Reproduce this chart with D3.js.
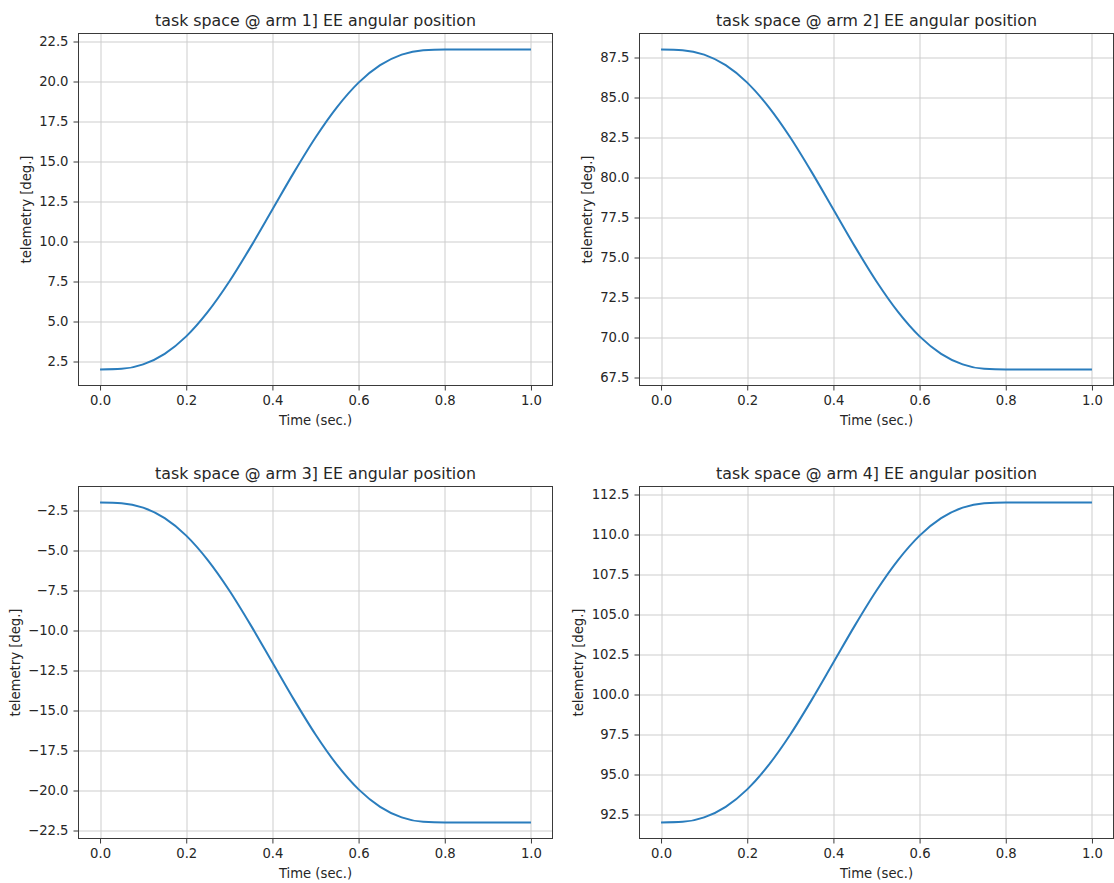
<!DOCTYPE html>
<html>
<head>
<meta charset="utf-8">
<script src="https://cdn.jsdelivr.net/npm/d3@7"></script>
<style>
  body { margin: 0; background: #fff; }
  svg { display: block; }
  text { font-family: "DejaVu Sans", sans-serif; fill: #262626; }
</style>
</head>
<body>
<svg id="chart" width="1114" height="883"></svg>
<script>
// Sample times (seconds)
const time = [0.00, 0.05, 0.10, 0.15, 0.20, 0.25, 0.30, 0.35, 0.40, 0.45, 0.50,
              0.55, 0.60, 0.65, 0.70, 0.75, 0.80, 0.85, 0.90, 0.95, 1.00];

// End-effector angular position per arm (degrees)
const arm1 = [2.00, 2.04, 2.32, 2.98, 4.07, 5.60, 7.50, 9.68, 12.00, 14.32, 16.50,
              18.40, 19.93, 21.02, 21.68, 21.96, 22.00, 22.00, 22.00, 22.00, 22.00];
const arm2 = [88.00, 87.96, 87.68, 87.02, 85.93, 84.40, 82.50, 80.32, 78.00, 75.68, 73.50,
              71.60, 70.07, 68.98, 68.32, 68.04, 68.00, 68.00, 68.00, 68.00, 68.00];
const arm3 = [-2.00, -2.04, -2.32, -2.98, -4.07, -5.60, -7.50, -9.68, -12.00, -14.32, -16.50,
              -18.40, -19.93, -21.02, -21.68, -21.96, -22.00, -22.00, -22.00, -22.00, -22.00];
const arm4 = [92.00, 92.04, 92.32, 92.98, 94.07, 95.60, 97.50, 99.68, 102.00, 104.32, 106.50,
              108.40, 109.93, 111.02, 111.68, 111.96, 112.00, 112.00, 112.00, 112.00, 112.00];

// Axis ticks
const xTicks = [0.0, 0.2, 0.4, 0.6, 0.8, 1.0];
const yTicks1 = [2.5, 5.0, 7.5, 10.0, 12.5, 15.0, 17.5, 20.0, 22.5];
const yTicks2 = [67.5, 70.0, 72.5, 75.0, 77.5, 80.0, 82.5, 85.0, 87.5];
const yTicks3 = [-22.5, -20.0, -17.5, -15.0, -12.5, -10.0, -7.5, -5.0, -2.5];
const yTicks4 = [92.5, 95.0, 97.5, 100.0, 102.5, 105.0, 107.5, 110.0, 112.5];

// Text
const titles = [
  "task space @ arm 1] EE angular position",
  "task space @ arm 2] EE angular position",
  "task space @ arm 3] EE angular position",
  "task space @ arm 4] EE angular position"
];
const xLabel = "Time (sec.)";
const yLabel = "telemetry [deg.]";

// Layout
const W = 474, H = 352;
const cols = [78.5, 639.5];
const rows = [33.5, 486.5];
const tickFont = 13.2, titleFont = 15.8;
const lineColor = "#2a7dbd";
const gridColor = "#cdcdcd";
const spineColor = "#3a3a3a";

const panels = [
  { values: arm1, ticks: yTicks1, title: titles[0], left: cols[0], top: rows[0] },
  { values: arm2, ticks: yTicks2, title: titles[1], left: cols[1], top: rows[0] },
  { values: arm3, ticks: yTicks3, title: titles[2], left: cols[0], top: rows[1] },
  { values: arm4, ticks: yTicks4, title: titles[3], left: cols[1], top: rows[1] }
];

const svg = d3.select("#chart");
const fmt = d3.format(".1f");

panels.forEach(p => {
  const g = svg.append("g").attr("transform", `translate(${p.left},${p.top})`);

  // 5% margins around the data range on both axes
  const xExt = d3.extent(time), yExt = d3.extent(p.values);
  const xPad = (xExt[1] - xExt[0]) * 0.05, yPad = (yExt[1] - yExt[0]) * 0.05;
  const x = d3.scaleLinear().domain([xExt[0] - xPad, xExt[1] + xPad]).range([0, W]);
  const y = d3.scaleLinear().domain([yExt[0] - yPad, yExt[1] + yPad]).range([H, 0]);

  // Grid
  g.append("g").selectAll("line").data(xTicks).join("line")
    .attr("x1", d => Math.round(x(d)) + 0.5).attr("x2", d => Math.round(x(d)) + 0.5)
    .attr("y1", 0).attr("y2", H)
    .attr("stroke", gridColor).attr("stroke-width", 1);
  g.append("g").selectAll("line").data(p.ticks).join("line")
    .attr("y1", d => Math.round(y(d)) + 0.5).attr("y2", d => Math.round(y(d)) + 0.5)
    .attr("x1", 0).attr("x2", W)
    .attr("stroke", gridColor).attr("stroke-width", 1);

  // Series
  const line = d3.line()
    .x((d, i) => x(time[i]))
    .y(d => y(d))
    .curve(d3.curveMonotoneX);
  g.append("path").datum(p.values)
    .attr("d", line)
    .attr("fill", "none")
    .attr("stroke", lineColor)
    .attr("stroke-width", 2);

  // Axes
  const xAxis = g.append("g").attr("transform", `translate(0,${H})`)
    .call(d3.axisBottom(x).tickValues(xTicks).tickFormat(fmt).tickSize(5).tickPadding(5));
  const yAxis = g.append("g")
    .call(d3.axisLeft(y).tickValues(p.ticks).tickFormat(fmt).tickSize(5).tickPadding(5));
  [xAxis, yAxis].forEach(a => {
    a.select(".domain").remove();
    a.selectAll(".tick line").attr("stroke", spineColor);
    a.selectAll(".tick text")
      .attr("fill", "#262626")
      .style("font-family", '"DejaVu Sans", sans-serif')
      .style("font-size", tickFont + "px");
  });

  // Frame
  g.append("rect").attr("x", 0).attr("y", 0).attr("width", W).attr("height", H)
    .attr("fill", "none").attr("stroke", spineColor).attr("stroke-width", 1);

  // Title
  g.append("text").attr("x", W / 2).attr("y", -8)
    .attr("text-anchor", "middle")
    .style("font-size", titleFont + "px")
    .text(p.title);

  // X label
  g.append("text").attr("x", W / 2).attr("y", H + 39.5)
    .attr("text-anchor", "middle")
    .style("font-size", tickFont + "px")
    .text(xLabel);

  // Y label placed just left of the widest tick label
  let maxW = 0;
  yAxis.selectAll(".tick text").each(function () {
    maxW = Math.max(maxW, this.getComputedTextLength());
  });
  const xb = -(10 + maxW + 5.3 + 3.1);
  g.append("text")
    .attr("transform", `translate(${xb},${H / 2}) rotate(-90)`)
    .attr("text-anchor", "middle")
    .style("font-size", tickFont + "px")
    .text(yLabel);
});
</script>
</body>
</html>
